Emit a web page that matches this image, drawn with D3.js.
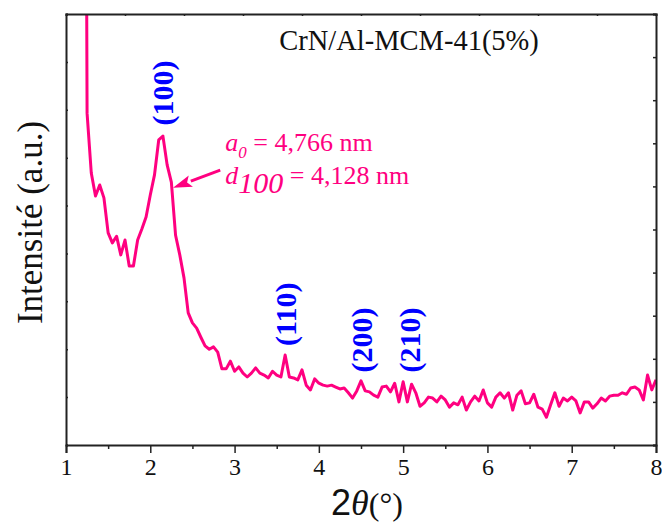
<!DOCTYPE html>
<html><head><meta charset="utf-8">
<script src="https://cdn.jsdelivr.net/npm/d3@7"></script>
<style>body{margin:0;background:#fff}svg{display:block}</style>
</head><body><svg id="c" width="662" height="525"></svg>
<script>
const twoTheta = [1.24,1.25,1.30,1.35,1.40,1.45,1.50,1.55,1.60,1.65,1.70,1.75,1.80,1.85,1.90,1.95,2.00,2.05,2.10,2.15,2.20,2.25,2.30,2.35,2.40,2.45,2.50,2.55,2.60,2.65,2.70,2.75,2.80,2.85,2.90,2.95,3.00,3.05,3.10,3.15,3.20,3.25,3.30,3.35,3.40,3.45,3.50,3.55,3.60,3.65,3.70,3.75,3.80,3.85,3.90,3.95,4.00,4.05,4.10,4.15,4.20,4.25,4.30,4.35,4.40,4.45,4.50,4.55,4.60,4.65,4.70,4.75,4.80,4.85,4.90,4.95,5.00,5.05,5.10,5.15,5.20,5.25,5.30,5.35,5.40,5.45,5.50,5.55,5.60,5.65,5.70,5.75,5.80,5.85,5.90,5.95,6.00,6.05,6.10,6.15,6.20,6.25,6.30,6.35,6.40,6.45,6.50,6.55,6.60,6.65,6.70,6.75,6.80,6.85,6.90,6.95,7.00,7.05,7.10,7.15,7.20,7.25,7.30,7.35,7.40,7.45,7.50,7.55,7.60,7.65,7.70,7.75,7.80,7.85,7.90,7.95,8.00];
const intensity = [12,6.93,5.68,5.20,5.43,5.16,4.43,4.22,4.36,3.97,4.28,3.74,3.74,4.28,4.51,4.76,5.22,5.64,6.37,6.45,5.85,5.49,4.38,3.97,3.49,2.76,2.55,2.44,2.25,2.07,2.00,2.05,1.94,1.59,1.59,1.75,1.54,1.63,1.50,1.42,1.50,1.61,1.50,1.46,1.40,1.54,1.46,1.42,1.88,1.42,1.40,1.36,1.57,1.25,1.15,1.38,1.29,1.25,1.23,1.25,1.21,1.17,1.19,1.09,0.98,1.13,1.34,1.13,1.11,1.04,1.00,1.21,1.23,1.11,1.29,0.90,1.32,0.90,1.27,1.09,0.81,0.88,1.00,0.98,0.90,1.02,0.94,0.79,0.88,0.84,1.00,0.73,0.90,1.02,0.92,1.15,0.88,0.79,1.00,1.09,0.98,1.09,0.73,1.04,1.13,0.86,0.88,1.06,0.79,0.75,0.58,0.84,1.09,0.81,0.98,0.92,1.00,0.92,0.67,0.90,0.90,0.77,0.86,0.98,0.92,1.02,1.04,1.04,1.09,1.06,1.19,1.21,1.15,0.94,1.46,1.15,1.36];
const xTicks = [1,2,3,4,5,6,7,8];
const xMinorTicks = [1.5,2.5,3.5,4.5,5.5,6.5,7.5];
const peakLabels = ["(100)","(110)","(200)","(210)"];
const peakX = [2.15,3.61,4.51,5.08];
const peakLabelY = [7.35,2.73,2.19,2.19];
const sampleName = "CrN/Al-MCM-41(5%)";

const color = "#ff0080";
const svg = d3.select("#c");
const L=66, R=656, T=14, B=445;
const x = d3.scaleLinear().domain([1,8]).range([L,R]);
const y = d3.scaleLinear().domain([0,9]).range([B,T]);
const xTop = d3.scaleLinear().domain([0,10]).range([L,R]);
const yRight = d3.scaleLinear().domain([0,10]).range([B,T]);
const serif = "'Liberation Serif','Times New Roman',serif";

svg.append("defs").append("clipPath").attr("id","clip")
  .append("rect").attr("x",L).attr("y",T).attr("width",R-L).attr("height",B-T);

const data = twoTheta.map((t,i)=>({t, v:intensity[i]}));
svg.append("path").datum(data)
  .attr("clip-path","url(#clip)")
  .attr("fill","none").attr("stroke",color).attr("stroke-width",3)
  .attr("stroke-linejoin","round")
  .attr("d", d3.line().x(d=>x(d.t)).y(d=>y(d.v)));

// axes
const gB = svg.append("g").attr("transform",`translate(0,${B})`)
  .call(d3.axisBottom(x).tickValues(xTicks).tickSize(8).tickPadding(5).tickFormat(d3.format("d")));
svg.append("g").attr("transform",`translate(0,${B})`)
  .call(d3.axisBottom(x).tickValues(xMinorTicks).tickSize(4).tickFormat(""))
  .select(".domain").remove();
const gL = svg.append("g").attr("transform",`translate(${L},0)`)
  .call(d3.axisLeft(y).tickValues(d3.range(0,10)).tickSize(-2).tickFormat(""));
const gT = svg.append("g").attr("transform",`translate(0,${T})`)
  .call(d3.axisTop(xTop).tickValues(d3.range(0,11)).tickSize(-2).tickFormat(""));
const gR = svg.append("g").attr("transform",`translate(${R},0)`)
  .call(d3.axisRight(yRight).tickValues(d3.range(0,11)).tickSize(-3).tickFormat(""));
svg.selectAll(".domain").attr("stroke","#222").attr("stroke-width",2);
svg.selectAll(".tick line").attr("stroke","#222").attr("stroke-width",1.5);
gB.selectAll(".tick text").attr("font-family",serif).attr("font-size",24).attr("fill","#111");

// axis titles
svg.append("text").attr("transform",`translate(42,${(T+B)/2-7}) rotate(-90)`)
  .attr("text-anchor","middle").attr("font-family",serif).attr("font-size",35).attr("fill","#111")
  .text("Intensité (a.u.)");
const xt = svg.append("text").attr("x",(L+R)/2+6).attr("y",515).attr("text-anchor","middle")
  .attr("fill","#111").attr("font-size",36);
xt.append("tspan").attr("font-family","'Liberation Sans',Arial,sans-serif").text("2");
xt.append("tspan").attr("font-family",serif).attr("font-style","italic").text("θ");
xt.append("tspan").attr("font-family",serif).attr("font-size",32).text("(°)");

// sample name
svg.append("text").attr("x",x(5.07)).attr("y",y(8.25)).attr("text-anchor","middle")
  .attr("font-family",serif).attr("font-size",28.5).attr("fill","#111").text(sampleName);

// peak labels
peakLabels.forEach((lab,i)=>{
  svg.append("text").attr("transform",`translate(${x(peakX[i])},${y(peakLabelY[i])}) rotate(-90)`)
    .attr("text-anchor","middle").attr("dy","0.35em")
    .attr("font-family",serif).attr("font-weight","bold").attr("font-size",30).attr("fill","#0000ff")
    .text(lab);
});

// arrow annotation
const arrowTail = {t:2.83, v:5.74}, arrowTip = {t:2.27, v:5.37};
const x1=x(arrowTail.t), y1=y(arrowTail.v), x2=x(arrowTip.t), y2=y(arrowTip.v);
const ang = Math.atan2(y2-y1, x2-x1), hl=19, hw=6;
const bx = x2 - hl*Math.cos(ang), by = y2 - hl*Math.sin(ang);
svg.append("line").attr("x1",x1).attr("y1",y1).attr("x2",bx).attr("y2",by)
  .attr("stroke",color).attr("stroke-width",3);
svg.append("polygon").attr("fill",color).attr("points",[
  [x2,y2],[bx+hw*Math.sin(ang), by-hw*Math.cos(ang)],[bx+4*Math.cos(ang), by+4*Math.sin(ang)],[bx-hw*Math.sin(ang), by+hw*Math.cos(ang)]
].map(p=>p.join(",")).join(" "));

const ax = x(2.89);
const t1 = svg.append("text").attr("x",ax).attr("y",y(6.13)).attr("font-family",serif).attr("font-size",26).attr("fill",color);
t1.append("tspan").attr("font-style","italic").text("a");
t1.append("tspan").attr("font-style","italic").attr("font-size",17).attr("dy",7).text("0");
t1.append("tspan").attr("dy",-7).text(" = 4,766 nm");
const t2 = svg.append("text").attr("x",ax).attr("y",y(5.45)).attr("font-family",serif).attr("font-size",26).attr("fill",color);
t2.append("tspan").attr("font-style","italic").text("d");
t2.append("tspan").attr("font-style","italic").attr("font-size",30).attr("dy",9).text("100");
t2.append("tspan").attr("dy",-9).text(" = 4,128 nm");
</script></body></html>
